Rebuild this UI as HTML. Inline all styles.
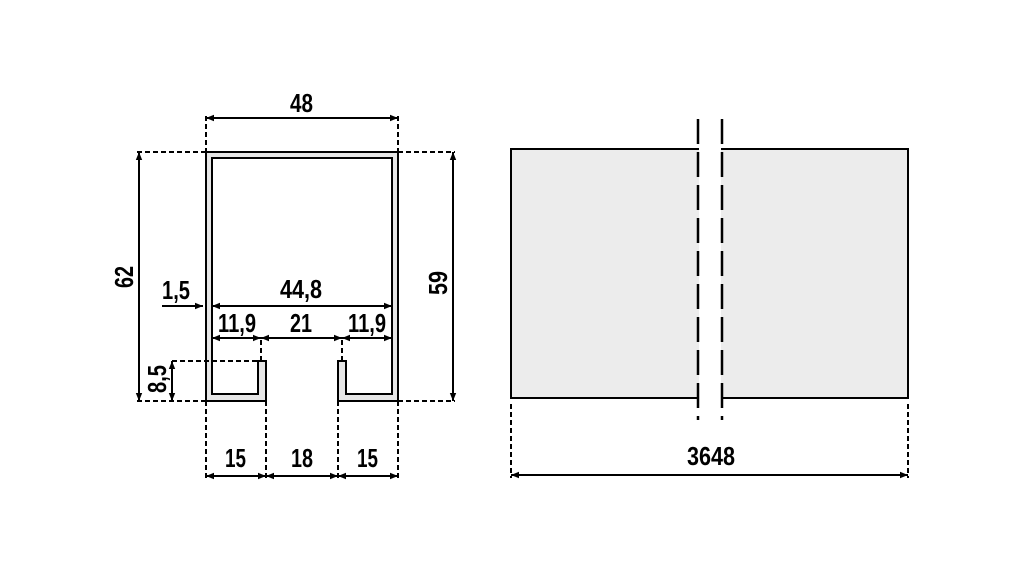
<!DOCTYPE html>
<html><head><meta charset="utf-8"><style>
html,body{margin:0;padding:0;background:#fff;}
svg{display:block;}
text{font-family:"Liberation Sans",sans-serif;font-weight:bold;font-size:26px;fill:#000;}
</style></head><body>
<svg width="1021" height="567" viewBox="0 0 1021 567" xmlns="http://www.w3.org/2000/svg">
<defs>
<marker id="a" viewBox="0 0 10 10" refX="10" refY="5" markerWidth="8" markerHeight="8" orient="auto-start-reverse" markerUnits="userSpaceOnUse"><path d="M0,1 L10,5 L0,9 Z" fill="#000"/></marker>
</defs>
<!-- profile -->
<path d="M206,152 H398 V401 H338 V361 H346 V394 H392 V158 H212 V394 H258 V361 H266 V401 H206 Z" fill="#e6e6e6" stroke="#000" stroke-width="2" fill-rule="evenodd"/>
<g stroke="#000" stroke-width="2" stroke-dasharray="5,3" fill="none">
<path d="M206,116 V152 M398,116 V152"/>
<path d="M137,152 H206 M137,401 H206 M398,152 H455 M398,401 H455"/>
<path d="M172,361 H258 M261,340 V361 M342,340 V361"/>
<path d="M206,401 V478 M266,401 V478 M338,401 V478 M398,401 V478"/>
<path d="M511,404 V478 M908,404 V478"/>
</g>
<g stroke="#000" stroke-width="2" fill="none" marker-start="url(#a)" marker-end="url(#a)">
<line x1="206" y1="118" x2="398" y2="118"/>
<line x1="139" y1="152" x2="139" y2="401"/>
<line x1="453" y1="152" x2="453" y2="401"/>
<line x1="212" y1="306" x2="392" y2="306"/>
<line x1="212" y1="338" x2="261" y2="338"/>
<line x1="261" y1="338" x2="342" y2="338"/>
<line x1="342" y1="338" x2="392" y2="338"/>
<line x1="172" y1="361" x2="172" y2="401"/>
<line x1="206" y1="476" x2="266" y2="476"/>
<line x1="266" y1="476" x2="338" y2="476"/>
<line x1="338" y1="476" x2="398" y2="476"/>
<line x1="511" y1="475" x2="908" y2="475"/>
</g>
<line x1="162" y1="306" x2="203" y2="306" stroke="#000" stroke-width="2" marker-end="url(#a)"/>
<!-- labels -->
<text x="290" y="112" textLength="23" lengthAdjust="spacingAndGlyphs">48</text>
<text x="280" y="298" textLength="42" lengthAdjust="spacingAndGlyphs">44,8</text>
<text x="162" y="299" textLength="28" lengthAdjust="spacingAndGlyphs">1,5</text>
<text x="218" y="332" textLength="38" lengthAdjust="spacingAndGlyphs">11,9</text>
<text x="290" y="332" textLength="22" lengthAdjust="spacingAndGlyphs">21</text>
<text x="348" y="332" textLength="38" lengthAdjust="spacingAndGlyphs">11,9</text>
<text x="225" y="467" textLength="21" lengthAdjust="spacingAndGlyphs">15</text>
<text x="291" y="467" textLength="22" lengthAdjust="spacingAndGlyphs">18</text>
<text x="357" y="467" textLength="21" lengthAdjust="spacingAndGlyphs">15</text>
<text x="687" y="465" textLength="48" lengthAdjust="spacingAndGlyphs">3648</text>
<text transform="translate(133,288) rotate(-90)" textLength="22" lengthAdjust="spacingAndGlyphs">62</text>
<text transform="translate(447,295) rotate(-90)" textLength="24" lengthAdjust="spacingAndGlyphs">59</text>
<text transform="translate(166,393) rotate(-90)" textLength="28" lengthAdjust="spacingAndGlyphs">8,5</text>
<!-- side view -->
<rect x="511" y="149" width="397" height="249" fill="#ececec" stroke="#000" stroke-width="2"/>
<rect x="699" y="140" width="22" height="268" fill="#fff"/>
<g stroke="#000" stroke-width="2.5" stroke-dasharray="25,8">
<line x1="698" y1="119" x2="698" y2="420"/>
<line x1="722" y1="119" x2="722" y2="420"/>
</g>
</svg>
</body></html>
